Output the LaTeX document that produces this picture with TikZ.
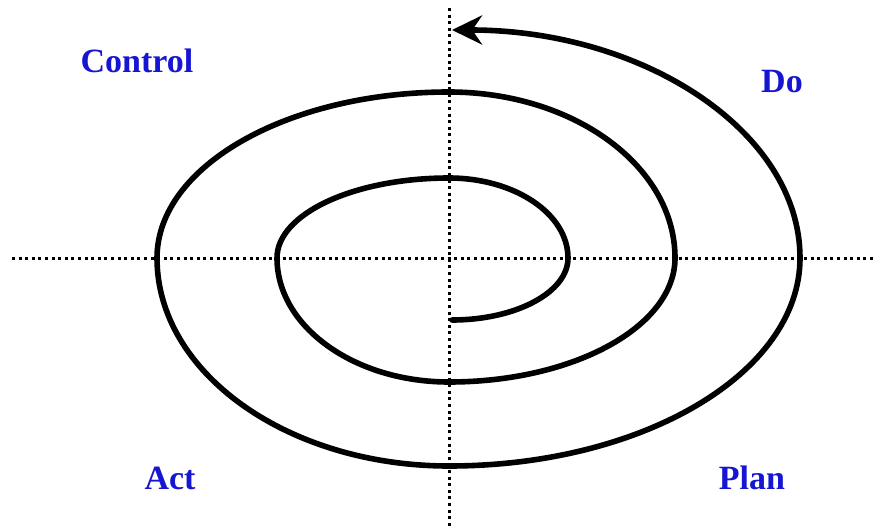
\documentclass[tikz,border=0pt]{standalone}
\usepackage{fontspec}
\setmainfont{Liberation Serif}
\usetikzlibrary{arrows.meta}
\definecolor{labelblue}{RGB}{22,22,210}

\begin{document}
\begin{tikzpicture}[
    x=1pt, y=1pt,
    >=Stealth,
    phase/.style={
        text=labelblue,
        font=\fontsize{34}{36}\selectfont\bfseries,
        inner sep=0pt
    },
    axis/.style={
        line width=3pt,
        dash pattern=on 3pt off 3.6pt
    },
    spiral/.style={
        line width=5.6pt,
        line cap=round
    }
]
    \useasboundingbox (0,0) rectangle (874,528);

    % axes
    \coordinate (west) at (12,270);
    \coordinate (east) at (874,270);
    \coordinate (north) at (449,520);
    \coordinate (south) at (449,0);
    \draw[axis] (west) -- (east);
    \draw[axis] (north) -- (south);

    % the spiral, quarter by quarter
    \coordinate (start) at (452,208);
    \draw[spiral, -{Stealth[length=30pt,width=29pt]}] (start)
        arc[start angle=-90, end angle=0,   x radius=116, y radius=62]
        arc[start angle=0,   end angle=90,  x radius=119, y radius=80]
        arc[start angle=90,  end angle=180, x radius=172, y radius=80]
        arc[start angle=180, end angle=270, x radius=172, y radius=124]
        arc[start angle=270, end angle=360, x radius=226, y radius=124]
        arc[start angle=0,   end angle=90,  x radius=226, y radius=166]
        arc[start angle=90,  end angle=180, x radius=292, y radius=166]
        arc[start angle=180, end angle=270, x radius=292, y radius=208]
        arc[start angle=270, end angle=360, x radius=351, y radius=208]
        arc[start angle=0,   end angle=90,  x radius=348, y radius=228];

    \node[phase] (control) at (137,467) {Control};
    \node[phase] (do) at (782,446) {Do};
    \node[phase] (act) at (170,50) {Act};
    \node[phase] (plan) at (752,50) {Plan};

\end{tikzpicture}
\end{document}
